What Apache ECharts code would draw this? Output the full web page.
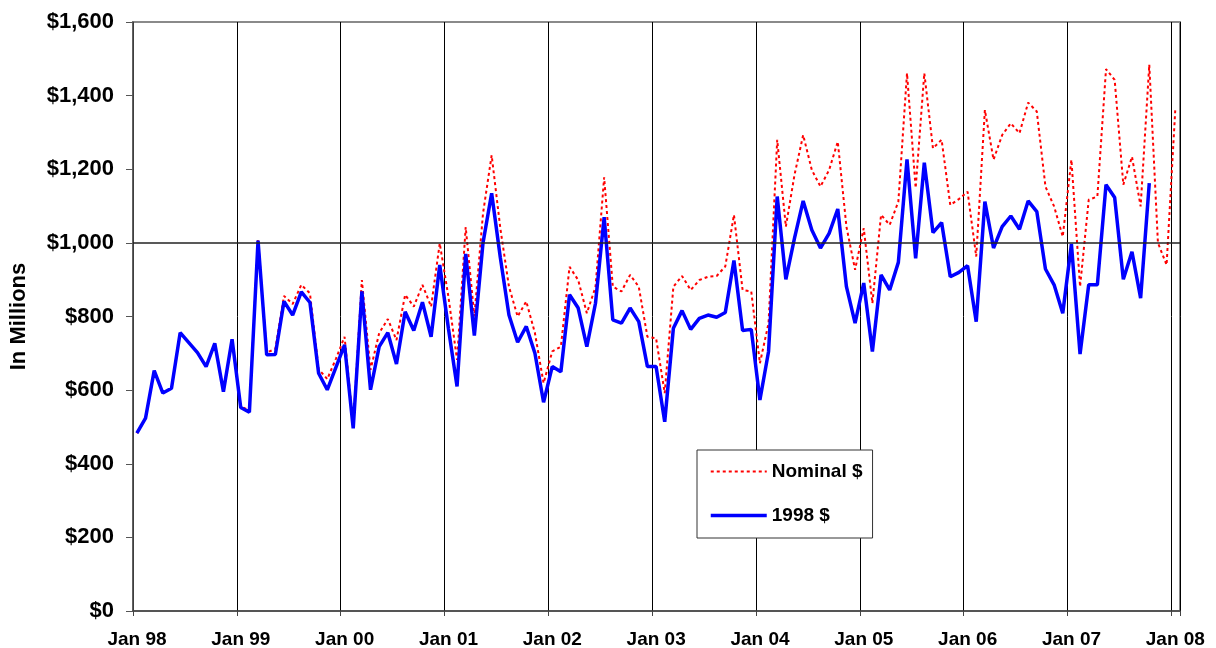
<!DOCTYPE html>
<html>
<head>
<meta charset="utf-8">
<script src="https://cdn.jsdelivr.net/npm/echarts@6/dist/echarts.min.js"></script>
<style>
  html, body { margin: 0; padding: 0; background: #fff; }
  #chart { width: 1216px; height: 648px; }
</style>
</head>
<body>
<div id="chart"></div>
<script>
// monthly values, index 0 = Jan 98
const nominal = [
  483, 524, 653, 592, 605, 756, 729, 702, 664, 727, 596, 738,
  556, 545, 1010, 702, 712, 856, 834, 886, 863, 657, 630, 685,
  745, 505, 899, 655, 755, 793, 736, 859, 827, 886, 827, 999,
  854, 682, 1043, 800, 1080, 1238, 1040, 881, 800, 841, 755, 619,
  705, 718, 935, 899, 809, 880, 1178, 881, 868, 913, 881, 745,
  741, 592, 881, 910, 872, 899, 908, 910, 936, 1076, 872, 868,
  673, 782, 1280, 1044, 1185, 1293, 1198, 1153, 1198, 1275, 1044, 927,
  1040, 836, 1076, 1049, 1112, 1461, 1149, 1461, 1257, 1280, 1103, 1119,
  1139, 963, 1361, 1226, 1293, 1325, 1298, 1381, 1357, 1153, 1099, 1017,
  1226, 881, 1117, 1126, 1472, 1443, 1158, 1234, 1099, 1484, 1000, 940,
  1360
];
const real1998 = [
  483, 524, 653, 592, 605, 756, 729, 702, 664, 727, 596, 738,
  553, 540, 1006, 696, 697, 841, 804, 867, 838, 646, 601, 662,
  723, 496, 868, 601, 718, 756, 671, 813, 762, 839, 745, 940,
  768, 610, 970, 748, 1000, 1135, 960, 804, 730, 773, 700, 567,
  664, 650, 859, 823, 718, 836, 1070, 791, 782, 823, 786, 664,
  664, 514, 768, 816, 765, 795, 804, 798, 811, 952, 762, 765,
  573, 705, 1126, 901, 1013, 1114, 1035, 986, 1026, 1092, 881, 782,
  891, 705, 913, 872, 947, 1227, 958, 1218, 1028, 1055, 908, 920,
  938, 786, 1112, 986, 1044, 1073, 1037, 1114, 1085, 929, 886, 809,
  997, 698, 886, 886, 1158, 1123, 901, 976, 850, 1162
];
const yearLabels = ['Jan 98', 'Jan 99', 'Jan 00', 'Jan 01', 'Jan 02', 'Jan 03',
  'Jan 04', 'Jan 05', 'Jan 06', 'Jan 07', 'Jan 08'];

const MID = 0.45; // points are plotted mid-month
const toPoints = arr => arr.map((v, i) => [i + MID, v]);
const FONT = '"Liberation Sans", Arial, sans-serif';

const chart = echarts.init(document.getElementById('chart'));

chart.setOption({
  animation: false,
  backgroundColor: '#fff',
  grid: {
    left: 133, right: 36, top: 22, bottom: 37,
    outerBoundsMode: 'none',
    show: true,
    borderColor: '#8a8a8a',
    borderWidth: 2,
  },
  legend: {
    orient: 'vertical',
    left: 697,
    top: 450,
    padding: [12, 10, 13, 12],
    itemGap: 25,
    itemWidth: 56,
    itemHeight: 20,
    itemTextGap: 4,
    itemStyle: { opacity: 0 }, // line only, no marker
    lineStyle: { width: 'inherit' },
    backgroundColor: '#fff',
    borderColor: '#333',
    borderWidth: 1,
    borderRadius: 0,
    textStyle: { fontFamily: FONT, fontWeight: 'bold', fontSize: 19, color: '#000' },
    data: ['Nominal $', '1998 $'],
  },
  xAxis: {
    type: 'value',
    min: 0,
    max: 121,
    interval: 12,
    axisLine: { lineStyle: { color: '#444', width: 1.5 } },
    axisTick: { show: true, length: 5, lineStyle: { color: '#444' } },
    splitLine: { show: true, lineStyle: { color: '#000', width: 1 } },
    axisLabel: {
      margin: 19,
      padding: [0, 0, 0, 8],
      fontFamily: FONT,
      fontWeight: 'bold',
      fontSize: 19,
      color: '#000',
      formatter: v => (v % 12 === 0 ? (yearLabels[v / 12] || '') : ''),
    },
  },
  yAxis: {
    type: 'value',
    min: 0,
    max: 1600,
    interval: 200,
    name: 'In Millions',
    nameLocation: 'middle',
    nameGap: 103,
    nameTextStyle: { fontFamily: FONT, fontWeight: 'bold', fontSize: 22, color: '#000' },
    axisLine: { show: true, lineStyle: { color: '#555', width: 1.5 } },
    axisTick: { show: true, length: 7, lineStyle: { color: '#555' } },
    splitLine: { show: false },
    axisLabel: {
      margin: 19,
      fontFamily: FONT,
      fontWeight: 'bold',
      fontSize: 22,
      color: '#000',
      formatter: v => '$' + v.toLocaleString('en-US'),
    },
  },
  series: [
    {
      name: 'Nominal $',
      type: 'line',
      data: toPoints(nominal),
      symbol: 'none',
      color: '#ff0000',
      lineStyle: { color: '#ff0000', width: 2, type: [3, 3] },
      markLine: {
        silent: true,
        symbol: 'none',
        label: { show: false },
        lineStyle: { color: '#222', width: 1.5, type: 'solid' },
        data: [{ yAxis: 1000 }],
      },
      z: 2,
    },
    {
      name: '1998 $',
      type: 'line',
      data: toPoints(real1998),
      symbol: 'none',
      color: '#0000ff',
      lineStyle: { color: '#0000ff', width: 3.5 },
      z: 3,
    },
  ],
});
</script>
</body>
</html>
